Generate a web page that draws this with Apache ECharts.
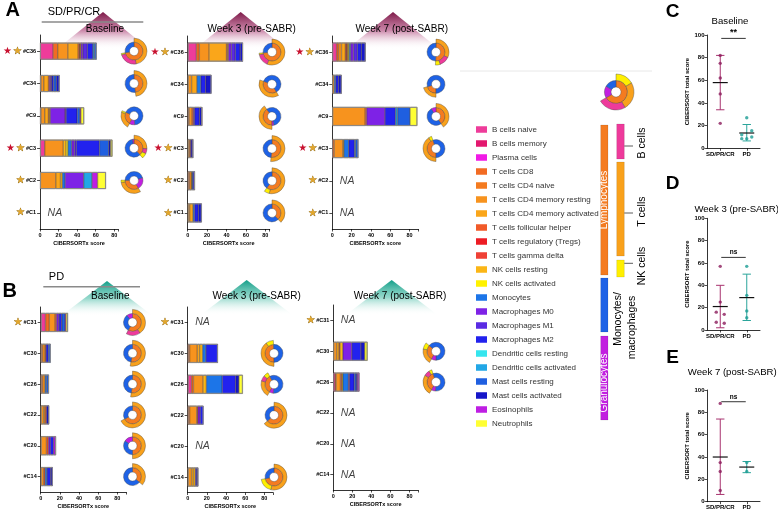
<!DOCTYPE html>
<html>
<head>
<meta charset="utf-8">
<script src="https://cdn.jsdelivr.net/npm/echarts@6/dist/echarts.min.js"></script>
<style>html,body{margin:0;padding:0;background:#fff;}#chart{width:778px;height:517px;}</style>
</head>
<body>
<div id="chart"></div>
<script>
// ---------------- DATA ----------------
const cellTypes = ['B cells naive','B cells memory','Plasma cells','T cells CD8','T cells CD4 naive',
  'T cells CD4 memory resting','T cells CD4 memory activated','T cells follicular helper',
  'T cells regulatory (Tregs)','T cells gamma delta','NK cells resting','NK cells activated',
  'Monocytes','Macrophages M0','Macrophages M1','Macrophages M2','Dendritic cells resting',
  'Dendritic cells activated','Mast cells resting','Mast cells activated','Eosinophils','Neutrophils'];

const groupA = ['#C36','#C34','#C9','#C3','#C2','#C1'];
const groupB = ['#C31','#C30','#C26','#C22','#C20','#C14'];
const starsA = ['both','none','none','both','gold','gold'];
const starsB = ['gold','none','none','none','none','none'];
const scoreTicks = [0,20,40,60,80];

// CIBERSORTx scores per patient, in cellTypes order (null = NA)
const aBaseline = [
  [14,0,0,5,0,11,11,1.5,0,0.5,1,0, 0,2,5,6,0,1.5,2.5,0,0,0],
  [0,0,0,1,0,3,5,1,0,0,0,0, 0,1.5,1,2,0,0,3,3.5,0,0],
  [0,0,0,1,0,4,4,1,0,0,1,0, 0,16,1,12,0,0,3,0,1,3.5],
  [5,0,0,0,0,20,0,0,0,0,3,2, 4,3,2,25,0,0,10,2,0,2],
  [0,0,0,0,0,17,5,0,0,0,2,0, 3,20,0,0,0,9,0,0,6,9],
  null
];
const aWeek3 = [
  [9,0,0,3,0,10,18,1,0,0,1,0, 0,3,4,5,0,0,0,3,0,0],
  [0,0,0,0,0,4,5.5,0,0,0,0,0, 4,0,0,5,0,0,0,6,0,0],
  [0,0,0,1.5,0,3,0,1.5,0,0,0,0, 0,0,1,5,0,0,0,2.5,0.5,0],
  [0,0,0,0,0,2,0,1,0,0,0,0, 0,0,0,1.5,0,0,0,1.3,0,0],
  [0,0,0,2,0,2,0,0,0,0,0.5,0, 1,0,0,2,0,0,0,0,0,0],
  [0,0,0,0,0,2,3.5,0,0,0,0,0, 1.5,0,0,4,0,0,0,3.5,0,0]
];
const aWeek7 = [
  [4.5,0,0,2,0,3,4,1,1,0,1,1, 1.5,3,4,4,0,0,0,4.5,0,0],
  [0,0,0,0,0,2,0,0,0,0,0,0, 1.5,0,0,3,0,0,0,3.2,0,0],
  [0,0,0,0,0,34,0,1.5,0,0,0,0, 0,19,0,11,0,2,13,0,0,7.5],
  [0,0,0,2,0,9,0,0,0,0,1,0, 5,0,0,6,0,1,3,0,0,0],
  null,
  null
];
const bBaseline = [
  [5,0,0,4,0,6,0,1.5,0,0,0,0, 0,2.5,0,3,0,0,3.5,0,1,2],
  [0,0,0,2,0,2.5,0,1,0,0,0,0, 0,0,0,2.5,0,0,2.4,0,0,0],
  [0,0,0,2,0,2.5,0,0,0,0,0,0, 1.5,0,0,0,0,0,2.6,0,0,0],
  [0,0,0,0,0,3,1.5,1.5,0,0,0,0, 0,0,0,0,0,0,0,2.9,0,0],
  [0,0,0,0,0,6,0,2,0,0,0,0, 0,2,0,3.5,0,0,0,0,2.5,0],
  [0,0,0,0,0,3,0,1.5,0,0,0,0, 2,0,0,4,0,0,0,2,0,0]
];
const bWeek3 = [
  null,
  [0,0,0,2,0,8,2.5,0,0,0,3,0, 3.5,0,0,12.5,0,0,0,0,0,0],
  [4,0,0,2,0,10,0,0,0,0,3.5,0, 16.5,0,0,14,0,0,0,3.5,0,4],
  [0,0,0,2,0,7.5,0,1,0,0,0,0, 0,2.5,0,3.5,0,0,0,0,0,0],
  null,
  [0,0,0,0,0,4,2,0,0,0,2,0, 0,0,0,1.6,0,0,0,1.5,0,0]
];
const bWeek7 = [
  null,
  [0,0,0,0,0,3.5,2.5,1,0,0,3,0, 0,9.5,0,9.5,0,0,0,4,0,3],
  [2,0,0,1,0,4.5,0,1.5,0,0,0,1, 6,1,0,5,0,0,2,1.5,2,0],
  null,
  null,
  null
];

// legend donut (lineage key): inner = lymphocytes, granulocytes, monocytes/macrophages ; outer = NK, T, B
const keyDonutInner = [8, 2, 2];
const keyDonutOuter = [2, 3, 3];

// CIBERSORT total scores (panels C-E)
const responseGroups = ['SD/PR/CR','PD'];
const totalTicks = [0,20,40,60,80,100];
const sdBaseline = [82,75,62,48,22];
const pdBaseline = [27,15.5,12,10,8.5,8.5];
const sdBaselineStats = [34,82,58];   // low, high, mean
const pdBaselineStats = [6.5,21,13.5];
const sdWeek3 = [57,25,16,14,7,6];
const pdWeek3 = [57,31,17,11];
const sdWeek3Stats = [2,40,21];
const pdWeek3Stats = [8.5,50,29];
const sdWeek7 = [88,35,27,10];
const pdWeek7 = [35,27];
const sdWeek7Stats = [6.5,74,40];
const pdWeek7Stats = [26,36,31];

// ---------------- STYLE ----------------
const FONT = "'Liberation Sans', Arial, Helvetica, sans-serif";
const cellColors = ['#EE3C9A','#E3186F','#F11AE6','#F26B23','#F47B20','#F7931E','#FAA61A','#F15A29',
  '#ED1C24','#EF4136','#FBB616','#FFF200','#1C75E8','#7E22E6','#5A2BE3','#2222EE','#35E5EE','#22A7E6',
  '#1F5FE0','#1616C8','#BE1EE3','#FFFF33'];
const LIN = {lymph:'#F47B20', mono:'#1E62E6', gran:'#C21FE0', T:'#F9A11B', B:'#EE3A9B', NK:'#FFEF00'};

// clock position (hours) where the lymphocyte wedge of each donut starts
const donutClockA0 = [12,12,7,12,5,12];
const donutClockA3 = [12,5,6,12,12,12];
const donutClockA7 = [12,6,12,6,12,12];
const donutClockB0 = [12,12,12,12,12,12];
const donutClockB3 = [12,6,7,12,12,12];
const donutClockB7 = [12,7,7,12,12,12];

const jitter = {
  sdB:[0,0,0,0,0], pdB:[0,5,-5,5,-5,0],
  sd3:[0,0,-4,4,-4,4], pd3:[0,0,0,0],
  sd7:[0,0,0,0], pd7:[0,0]
};

const barPanels = [
  {rows:aBaseline, cats:groupA, stars:starsA, clock:donutClockA0, left:40,    width:78,   top:35,  height:194, max:84,   bw:17, donutX:134},
  {rows:aWeek3,    cats:groupA, stars:starsA, clock:donutClockA3, left:187.7, width:82,   top:36,  height:193, max:84.5, bw:19, donutX:272},
  {rows:aWeek7,    cats:groupA, stars:starsA, clock:donutClockA7, left:332.3, width:86,   top:36,  height:193, max:89,   bw:19, donutX:436},
  {rows:bBaseline, cats:groupB, stars:starsB, clock:donutClockB0, left:40.7,  width:85.3, top:307, height:185, max:89,   bw:19, donutX:132.5},
  {rows:bWeek3,    cats:groupB, stars:starsB, clock:donutClockB3, left:187.7, width:85.3, top:307, height:185.5, max:89, bw:19, donutX:274},
  {rows:bWeek7,    cats:groupB, stars:starsB, clock:donutClockB7, left:333.3, width:84.7, top:305, height:185, max:89,   bw:19, donutX:436}
];

const statPanels = [
  {top:35,    height:113.3, sd:sdBaseline, pd:pdBaseline, sdJ:jitter.sdB, pdJ:jitter.pdB, sdS:sdBaselineStats, pdS:pdBaselineStats, sig:'**', sigY:97},
  {top:218.3, height:111.7, sd:sdWeek3,    pd:pdWeek3,    sdJ:jitter.sd3, pdJ:jitter.pd3, sdS:sdWeek3Stats,    pdS:pdWeek3Stats,    sig:'ns', sigY:65},
  {top:390,   height:111.7, sd:sdWeek7,    pd:pdWeek7,    sdJ:jitter.sd7, pdJ:jitter.pd7, sdS:sdWeek7Stats,    pdS:pdWeek7Stats,    sig:'ns', sigY:89.5}
];

const sum = (r, a, b) => { let s = 0; for (let i = a; i <= b; i++) s += r[i]; return s; };

const chart = echarts.init(document.getElementById('chart'), null, {renderer:'canvas', width:778, height:517});

const grids = [], xAxes = [], yAxes = [], series = [];
const axisBlack = {show:true, lineStyle:{color:'#000', width:0.8}};
const tickBlack = {show:true, length:2.5, lineStyle:{color:'#000', width:0.7}};

barPanels.forEach((p, k) => {
  grids.push({left:p.left, top:p.top, width:p.width, height:p.height});
  xAxes.push({
    gridIndex:k, type:'value', min:0, max:p.max, interval:20,
    axisLine:axisBlack, axisTick:tickBlack, splitLine:{show:false},
    axisLabel:{fontSize:5.5, fontWeight:'bold', color:'#000', margin:3, fontFamily:FONT,
      formatter: v => (scoreTicks.indexOf(v) >= 0 ? String(v) : '')},
    name:'CIBERSORTx score', nameLocation:'middle', nameGap:11,
    nameTextStyle:{fontSize:5.5, fontWeight:'bold', color:'#000', fontFamily:FONT}
  });
  yAxes.push({
    gridIndex:k, type:'category', inverse:true, data:p.cats,
    axisLine:axisBlack, axisTick:Object.assign({alignWithLabel:true}, tickBlack, {length:3}),
    axisLabel:{margin:4, interval:0,
      formatter: (v, i) => {
        const s = p.stars[i];
        const pre = s === 'both' ? '{r|★}{sp|}{g|★}{sp|}' : (s === 'gold' ? '{g|★}{sp|}' : '');
        return pre + '{t|' + v + '}';
      },
      rich:{
        r:{color:'#C8102E', fontSize:10, fontFamily:'DejaVu Sans', verticalAlign:'middle'},
        g:{color:'#E3A62A', fontSize:10, fontFamily:'DejaVu Sans', verticalAlign:'middle', textBorderColor:'#7A5A12', textBorderWidth:0.5},
        sp:{width:1},
        t:{fontSize:5.5, fontWeight:'bold', color:'#000', fontFamily:FONT, verticalAlign:'middle'}
      }
    }
  });
  cellTypes.forEach((name, j) => {
    series.push({
      type:'bar', name, xAxisIndex:k, yAxisIndex:k, stack:'p' + k, barWidth:p.bw, barGap:'-100%',
      silent:true, animation:false,
      itemStyle:{color:cellColors[j], borderColor:'rgba(45,25,10,0.85)', borderWidth:0.4},
      data:p.rows.map(r => (r && r[j] > 0) ? r[j] : '-')
    });
  });
  series.push({
    type:'bar', xAxisIndex:k, yAxisIndex:k, barWidth:p.bw, barGap:'-100%', silent:true, animation:false, z:3,
    itemStyle:{color:'rgba(0,0,0,0)', borderColor:'#8a8a8a', borderWidth:1},
    data:p.rows.map(r => r ? sum(r, 0, 21) : '-')
  });
  const na = [];
  p.rows.forEach((r, i) => { if (!r) na.push([0, i]); });
  series.push({
    type:'scatter', xAxisIndex:k, yAxisIndex:k, symbolSize:1, silent:true, animation:false,
    itemStyle:{color:'rgba(0,0,0,0)'}, data:na,
    label:{show:true, formatter:'NA', position:'right', distance:7, fontSize:10.5, fontStyle:'italic',
      color:'#111', fontFamily:FONT}
  });
});

function errRender(params, api) {
  const c = api.value(0), lo = api.value(1), hi = api.value(2), mean = api.value(3);
  const pl = api.coord([c, lo]), ph = api.coord([c, hi]), pm = api.coord([c, mean]);
  const col = c === 0 ? '#A8336F' : '#2BA59B';
  const cap = 4.2, half = 7.5;
  return {type:'group', children:[
    {type:'line', shape:{x1:pl[0], y1:pl[1], x2:ph[0], y2:ph[1]}, style:{stroke:col, lineWidth:1}},
    {type:'line', shape:{x1:pl[0]-cap, y1:pl[1], x2:pl[0]+cap, y2:pl[1]}, style:{stroke:col, lineWidth:1}},
    {type:'line', shape:{x1:ph[0]-cap, y1:ph[1], x2:ph[0]+cap, y2:ph[1]}, style:{stroke:col, lineWidth:1}},
    {type:'line', shape:{x1:pm[0]-half, y1:pm[1], x2:pm[0]+half, y2:pm[1]}, style:{stroke:'#111', lineWidth:1.2}}
  ]};
}

statPanels.forEach((s, m) => {
  const k = 6 + m;
  grids.push({left:707, top:s.top, width:53, height:s.height});
  xAxes.push({
    gridIndex:k, type:'category', data:responseGroups,
    axisLine:axisBlack, axisTick:Object.assign({alignWithLabel:true}, tickBlack),
    axisLabel:{fontSize:6, fontWeight:'bold', color:'#000', margin:3, interval:0, fontFamily:FONT}
  });
  yAxes.push({
    gridIndex:k, type:'value', min:0, max:100, interval:20,
    axisLine:axisBlack, axisTick:tickBlack, splitLine:{show:false},
    axisLabel:{fontSize:6, fontWeight:'bold', color:'#000', margin:2.5, fontFamily:FONT,
      formatter: v => (totalTicks.indexOf(v) >= 0 ? String(v) : '')},
    name:'CIBERSORT total score', nameLocation:'middle', nameGap:16, nameRotate:90,
    nameTextStyle:{fontSize:6, fontWeight:'bold', color:'#000', fontFamily:FONT}
  });
  series.push({
    type:'custom', xAxisIndex:k, yAxisIndex:k, silent:true, animation:false, z:3,
    encode:{x:0, y:[1,2]},
    data:[[0].concat(s.sdS), [1].concat(s.pdS)], renderItem:errRender
  });
  series.push({
    type:'scatter', xAxisIndex:k, yAxisIndex:k, silent:true, animation:false, symbolSize:3.4, z:4,
    itemStyle:{color:'#8C1D5C'},
    data:s.sd.map((v, i) => ({value:[0, v], symbolOffset:[s.sdJ[i], 0]}))
  });
  series.push({
    type:'scatter', xAxisIndex:k, yAxisIndex:k, silent:true, animation:false, symbolSize:3.4, z:4,
    itemStyle:{color:'#1C9C93'},
    data:s.pd.map((v, i) => ({value:[1, v], symbolOffset:[s.pdJ[i], 0]}))
  });
  const sig = s.sig;
  series.push({
    type:'custom', xAxisIndex:k, yAxisIndex:k, silent:true, animation:false, z:3,
    encode:{x:0, y:1}, data:[[0, s.sigY]],
    renderItem:(params, api) => {
      const a = api.coord([0, api.value(1)]), b = api.coord([1, api.value(1)]);
      return {type:'group', children:[
        {type:'line', shape:{x1:a[0]+1, y1:a[1], x2:b[0]-1, y2:b[1]}, style:{stroke:'#000', lineWidth:0.8}},
        {type:'text', x:(a[0]+b[0])/2, y:a[1]-1.5, style:{text:sig, align:'center', verticalAlign:'bottom',
          fontSize: sig === '**' ? 9 : 6.5, fontWeight:'bold', fontFamily:FONT, fill:'#000'}}
      ]};
    }
  });
});

// ---------------- GRAPHICS ----------------
const G = [];
function txt(text, x, y, size, opts) {
  return Object.assign({type:'text', x, y, silent:true, z:10,
    style:Object.assign({text, fontSize:size, fontFamily:FONT, fill:'#000', align:'center', verticalAlign:'middle'},
      (opts && opts.style) || {})}, (opts && opts.el) || {});
}
function tri(cx, ay, halfW, by, c0, c1) {
  return {type:'polygon', silent:true, z:1,
    shape:{points:[[cx, ay], [cx - halfW, by], [cx + halfW, by]]},
    style:{fill:{type:'linear', x:0, y:0, x2:0, y2:1, colorStops:[
      {offset:0, color:c0}, {offset:0.5, color:c1}, {offset:1, color:'rgba(255,255,255,0)'}]}}};
}
const MA0 = 'rgba(125,25,72,1)', MA1 = 'rgba(190,105,148,0.8)';
const TE0 = 'rgba(18,158,136,1)', TE1 = 'rgba(105,200,182,0.7)';
G.push(tri(103, 12, 46, 49, MA0, MA1), tri(240.7, 12, 46, 49, MA0, MA1), tri(393, 12, 46, 49, MA0, MA1));
G.push(tri(107, 281, 46, 316, TE0, TE1), tri(246.7, 280, 46, 315, TE0, TE1), tri(391.7, 280, 46, 315, TE0, TE1));
G.push({type:'line', silent:true, z:2, shape:{x1:41.7, y1:22, x2:143.3, y2:22}, style:{stroke:'#8a8a8a', lineWidth:1.5}});
G.push({type:'line', silent:true, z:2, shape:{x1:43.3, y1:286.7, x2:140, y2:286.7}, style:{stroke:'#8a8a8a', lineWidth:1.5}});
G.push(txt('SD/PR/CR', 74, 12, 11), txt('PD', 56.5, 277, 11));
G.push(txt('Baseline', 105, 29.5, 10), txt('Week 3 (pre-SABR)', 251.7, 29.5, 10), txt('Week 7 (post-SABR)', 401.7, 29.5, 10));
G.push(txt('Baseline', 110.3, 296, 10), txt('Week 3 (pre-SABR)', 256.7, 296, 10), txt('Week 7 (post-SABR)', 400, 296, 10));
G.push(txt('A', 12.8, 10, 20, {style:{fontWeight:'bold'}}), txt('B', 9.7, 291, 20, {style:{fontWeight:'bold'}}));
G.push(txt('C', 672.5, 12, 19, {style:{fontWeight:'bold'}}), txt('D', 672.5, 184, 19, {style:{fontWeight:'bold'}}),
       txt('E', 672.5, 358, 19, {style:{fontWeight:'bold'}}));
G.push(txt('Baseline', 730, 21, 9.6), txt('Week 3 (pre-SABR)', 736.7, 209.5, 9.6), txt('Week 7 (post-SABR)', 732.3, 372.7, 9.6));
// key area
G.push({type:'line', silent:true, z:2, shape:{x1:460, y1:71, x2:652, y2:71}, style:{stroke:'#e2e2e2', lineWidth:0.8}});
function rect(x, y, w, h, c) { return {type:'rect', silent:true, z:2, shape:{x, y, width:w, height:h}, style:{fill:c, stroke:'rgba(0,0,0,0.25)', lineWidth:0.4}}; }
G.push(rect(600.7, 125, 7.3, 150, LIN.lymph), rect(600.7, 278, 7.3, 54, LIN.mono), rect(600.7, 336, 7.3, 84, LIN.gran));
G.push(rect(616.7, 124, 7.6, 35, LIN.B), rect(616.7, 162, 7.6, 94, LIN.T), rect(616.7, 260, 7.6, 17, LIN.NK));
[146, 213, 263.3].forEach(y => G.push({type:'line', silent:true, z:2, shape:{x1:624.3, y1:y, x2:633, y2:y}, style:{stroke:'#333', lineWidth:0.8}}));
const rot = {el:{rotation:Math.PI/2}};
G.push(txt('Lymphocytes', 604.4, 200, 10, {el:{rotation:Math.PI/2}, style:{fill:'#fff'}}));
G.push(txt('Granulocytes', 604.4, 383, 10, {el:{rotation:Math.PI/2}, style:{fill:'#fff'}}));
G.push(txt('B cells', 641.7, 143, 10.5, rot), txt('T cells', 641.7, 211.7, 10.5, rot), txt('NK cells', 641.7, 266, 10.5, rot));
G.push(txt('Monocytes/', 618, 319, 10.5, rot), txt('macrophages', 632, 327.5, 10.5, rot));

const option = {
  animation:false,
  backgroundColor:'#fff',
  textStyle:{fontFamily:FONT},
  grid:grids, xAxis:xAxes, yAxis:yAxes, series:series,
  legend:{data:cellTypes, orient:'vertical', left:471, top:119, itemWidth:11, itemHeight:6.5, itemGap:3,
    icon:'rect', selectedMode:false, itemStyle:{borderWidth:0},
    textStyle:{fontSize:8, color:'#333', fontFamily:FONT, lineHeight:11}},
  graphic:{elements:G}
};
chart.setOption(option);

// ---------------- DONUTS (placed on each patient's category row) ----------------
const pieBase = {type:'pie', silent:true, animation:false, clockwise:true, z:5,
  label:{show:false}, labelLine:{show:false}, emphasis:{disabled:true},
  itemStyle:{borderColor:'#4a4a4a', borderWidth:0.4}};
function ring(vals, cols, radius, center, startAngle) {
  const data = [];
  vals.forEach((v, i) => {
    if (v <= 0) return;
    if (cols[i] === null) data.push({value:v, itemStyle:{color:'rgba(0,0,0,0)', borderWidth:0}});
    else data.push({value:v, itemStyle:{color:cols[i]}});
  });
  return Object.assign({}, pieBase, {radius, center, data, startAngle});
}
const clockToAngle = h => 90 - 30 * (h % 12);
const pies = [];
barPanels.forEach((p, k) => {
  p.rows.forEach((r, i) => {
    if (!r) return;
    const cy = chart.convertToPixel({yAxisIndex:k}, i);
    const a = clockToAngle(p.clock[i]);
    const lymph = sum(r, 0, 11), mono = sum(r, 12, 19), gran = sum(r, 20, 21);
    const T = sum(r, 3, 9), B = sum(r, 0, 2), NK = sum(r, 10, 11);
    pies.push(ring([lymph, mono, gran], [LIN.lymph, LIN.mono, LIN.gran], [4.5, 9], [p.donutX, cy], a));
    pies.push(ring([T, B, NK, mono + gran], [LIN.T, LIN.B, LIN.NK, null], [9, 13], [p.donutX, cy], a));
  });
});
pies.push(ring(keyDonutInner, [LIN.lymph, LIN.gran, LIN.mono], [5, 11.5], [616, 92], 90));
pies.push(ring(keyDonutOuter.concat([keyDonutInner[1] + keyDonutInner[2]]), [LIN.NK, LIN.T, LIN.B, null], [11.5, 18], [616, 92], 90));
chart.setOption({series:series.concat(pies)});
</script>
</body>
</html>
